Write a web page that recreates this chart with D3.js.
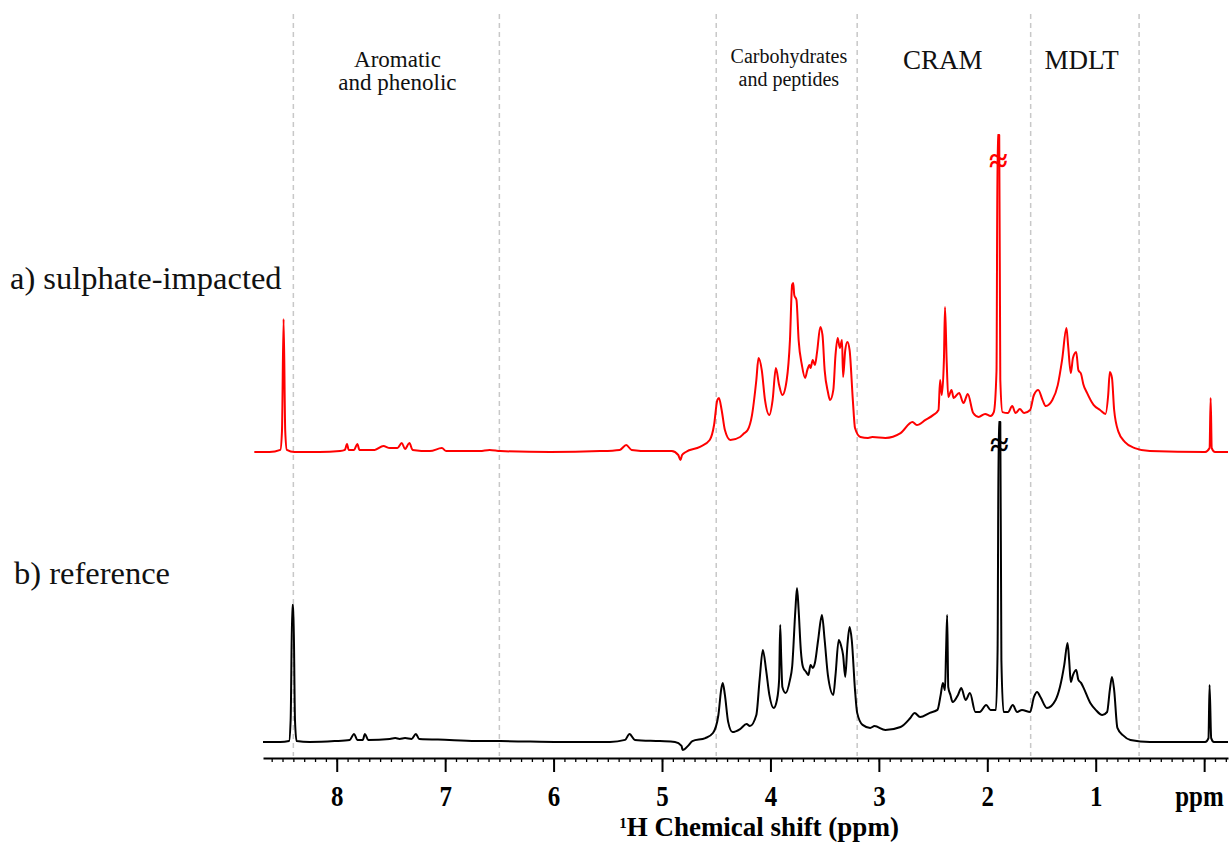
<!DOCTYPE html>
<html>
<head>
<meta charset="utf-8">
<script src="https://cdn.jsdelivr.net/npm/d3@7"></script>
<style>
  body { margin: 0; background: #fff; }
  text { font-family: 'Liberation Serif', 'Times New Roman', serif; }
</style>
</head>
<body>
<div id="chart"></div>
<script>
// ── Data (ppm, intensity in a.u.) ──
const sulphate = [
  [8.76, 0], [8.62, 0], [8.52, 0.7], [8.505, 7], [8.49, 44.3], [8.475, 7], [8.46, 0.7], [8.39, 0],
  [8.16, 0], [7.97, 0.3], [7.925, 0.7], [7.905, 2.7], [7.89, 0.7], [7.84, 0.7], [7.81, 2.7], [7.79, 0.7],
  [7.65, 0.7], [7.57, 2], [7.51, 1.3], [7.44, 1.3], [7.40, 3], [7.37, 1], [7.33, 3], [7.30, 0.7],
  [7.14, 0.3], [7.03, 1.3], [6.99, 0.3], [6.68, 0.3], [6.59, 0.7], [6.49, 0.3], [6.03, 0], [5.57, 0.3],
  [5.39, 0.7], [5.33, 2.3], [5.28, 0.7], [5.11, 0.3], [4.91, 0.3], [4.85, -1], [4.83, -2.7], [4.815, -1],
  [4.78, 0], [4.65, 1.7], [4.56, 4], [4.52, 9], [4.49, 17.3], [4.475, 18], [4.45, 14], [4.42, 7.3],
  [4.37, 4], [4.28, 5], [4.25, 6], [4.21, 7.3], [4.17, 12.3], [4.13, 24], [4.11, 31.3], [4.08, 27.3],
  [4.05, 17.3], [4.01, 12.3], [3.98, 17.3], [3.95, 28], [3.92, 22.3], [3.89, 19], [3.85, 24], [3.82, 37.3],
  [3.80, 55.7], [3.79, 56.3], [3.78, 52.3], [3.76, 50.7], [3.74, 37.3], [3.71, 29], [3.68, 24.7], [3.66, 27.3],
  [3.64, 29], [3.63, 28], [3.61, 30.7], [3.59, 29], [3.57, 33.3], [3.54, 41.7], [3.52, 39], [3.50, 27.3],
  [3.47, 20], [3.45, 17.3], [3.42, 20.7], [3.40, 32.3], [3.38, 38], [3.36, 34.7], [3.34, 37.3], [3.33, 25],
  [3.31, 34], [3.29, 36.7], [3.27, 34], [3.24, 17.3], [3.22, 8], [3.17, 5], [3.10, 4.7], [3.06, 5],
  [2.94, 4.7], [2.80, 6.3], [2.69, 10], [2.65, 9], [2.57, 10.7], [2.50, 12.3], [2.45, 14], [2.435, 24],
  [2.42, 19], [2.40, 30.7], [2.39, 48.3], [2.375, 30.7], [2.36, 18.3], [2.33, 20.7], [2.31, 18], [2.26, 19.7],
  [2.22, 16.3], [2.18, 19.3], [2.13, 13], [2.08, 11.7], [2.02, 12.7], [1.97, 12], [1.94, 13.3], [1.915, 27],
  [1.905, 105.7], [1.89, 105.7], [1.88, 24], [1.86, 13.3], [1.81, 13], [1.77, 15.3], [1.74, 13], [1.70, 14.3],
  [1.66, 13], [1.605, 14], [1.57, 19], [1.53, 20.7], [1.49, 17.3], [1.46, 15.3], [1.40, 17.3], [1.35, 22.3],
  [1.31, 30.7], [1.27, 41.3], [1.255, 35.7], [1.23, 26.3], [1.21, 31.3], [1.18, 33.3], [1.16, 27.3], [1.135, 26],
  [1.115, 22.7], [1.08, 19.7], [1.02, 15.7], [0.96, 14], [0.91, 12.7], [0.885, 19], [0.87, 26.7], [0.85, 24.7],
  [0.83, 14], [0.79, 6.7], [0.73, 3.3], [0.64, 1.3], [0.50, 0.3], [-0.01, 0], [-0.05, 1.3], [-0.06, 18],
  [-0.07, 1.3], [-0.10, 0], [-0.22, 0]
];

const reference = [
  [8.68, 0], [8.52, 0], [8.44, 0.3], [8.425, 7.3], [8.41, 45.7], [8.40, 45.7], [8.385, 7.3], [8.37, 0.3],
  [8.25, 0], [8.02, 0.3], [7.88, 0.7], [7.84, 2.7], [7.81, 0.7], [7.76, 0.7], [7.74, 2.7], [7.71, 0.7],
  [7.51, 1], [7.46, 1.3], [7.42, 1], [7.37, 1.3], [7.31, 1], [7.27, 2.7], [7.24, 1], [6.96, 0.7],
  [6.68, 0.3], [6.49, 0.3], [5.94, 0], [5.48, 0], [5.34, 0.7], [5.30, 2.7], [5.25, 0.7], [5.02, 0.3],
  [4.88, 0], [4.82, -1.3], [4.81, -2.7], [4.76, -1.3], [4.72, 0.3], [4.60, 1.3], [4.53, 3], [4.48, 9],
  [4.455, 17.3], [4.44, 19.7], [4.42, 15.7], [4.39, 6.7], [4.35, 3.3], [4.28, 4.3], [4.22, 6], [4.19, 5.3],
  [4.13, 9], [4.10, 20.7], [4.07, 30.7], [4.04, 24], [4.01, 15.7], [3.97, 11.3], [3.94, 14], [3.92, 20.7],
  [3.91, 39], [3.90, 27.3], [3.89, 18.3], [3.86, 16.3], [3.82, 20.7], [3.80, 25], [3.77, 44], [3.755, 51.3],
  [3.74, 44], [3.72, 30.7], [3.70, 25], [3.67, 23.3], [3.65, 22.3], [3.63, 25.7], [3.61, 24.7], [3.59, 26.3],
  [3.56, 34], [3.525, 42.3], [3.50, 34], [3.47, 22.3], [3.42, 15.7], [3.40, 22.3], [3.37, 34], [3.35, 32.3],
  [3.33, 29], [3.31, 21.7], [3.29, 32.3], [3.27, 38.3], [3.25, 34], [3.22, 17.3], [3.20, 9.7], [3.15, 5.7],
  [3.08, 4.7], [3.04, 5.3], [2.94, 4], [2.80, 5], [2.71, 8], [2.67, 9.7], [2.62, 8.3], [2.53, 9.7],
  [2.46, 10.7], [2.43, 15.7], [2.41, 19.7], [2.39, 17.3], [2.38, 30.7], [2.37, 42.3], [2.36, 18.3], [2.34, 15.7],
  [2.32, 13.3], [2.27, 15.7], [2.24, 18], [2.20, 14], [2.16, 16.3], [2.11, 10], [2.07, 10], [2.01, 12.3],
  [1.97, 10.7], [1.92, 10.7], [1.905, 30.7], [1.895, 106.7], [1.88, 106.7], [1.87, 27.3], [1.85, 10], [1.81, 10],
  [1.765, 12.3], [1.725, 10], [1.68, 10.7], [1.605, 10], [1.57, 15], [1.54, 16.7], [1.51, 15], [1.45, 11.3],
  [1.37, 14], [1.33, 18.3], [1.29, 25.7], [1.26, 33], [1.245, 27.3], [1.23, 20], [1.21, 22.3], [1.18, 24],
  [1.16, 20.7], [1.135, 19.7], [1.115, 18.3], [1.05, 13], [1.00, 10.7], [0.94, 9], [0.895, 10], [0.87, 17.3],
  [0.85, 21.7], [0.83, 17.3], [0.80, 4.7], [0.75, 2.3], [0.68, 0.7], [0.50, 0], [-0.01, 0], [-0.04, 1.3],
  [-0.05, 19], [-0.065, 1.3], [-0.09, 0], [-0.22, 0]
];

const regionBounds = [8.4, 6.5, 4.5, 3.2, 1.6, 0.6];
const regionLabels = [
  { ppm: 7.44, lines: ['Aromatic', 'and phenolic'] },
  { ppm: 3.83, lines: ['Carbohydrates', 'and peptides'] },
  { ppm: 2.41, lines: ['CRAM'] },
  { ppm: 1.13, lines: ['MDLT'] }
];
const majorTicks = [8, 7, 6, 5, 4, 3, 2, 1, 0];
const breakPeaks = [1.897, 1.89]; // truncated peak, sulphate / reference

const width = 1230, height = 845;

const svg = d3.select('#chart')
  .append('svg')
  .attr('width', width)
  .attr('height', height);

const x = d3.scaleLinear().domain([8.68, -0.22]).range([263, 1228]);
const yA = d3.scaleLinear().domain([0, 100]).range([452, 152]);
const yB = d3.scaleLinear().domain([0, 100]).range([742, 442]);

// Region dividers
svg.append('g').selectAll('line')
  .data(regionBounds).enter()
  .append('line')
  .attr('x1', d => x(d)).attr('x2', d => x(d))
  .attr('y1', 14).attr('y2', 756)
  .attr('stroke', '#c8c8c8')
  .attr('stroke-width', 1.5)
  .attr('stroke-dasharray', '5,4');

// Region labels
const labelSizes = [23, 20, 27, 27];
const labelBase = [67, 63, 69, 69];
const labelGap = [23, 23, 0, 0];
regionLabels.forEach((r, i) => {
  r.lines.forEach((t, j) => {
    svg.append('text')
      .attr('x', x(r.ppm))
      .attr('y', labelBase[i] + j * labelGap[i])
      .attr('text-anchor', 'middle')
      .style('font-size', labelSizes[i] + 'px')
      .attr('fill', '#111')
      .text(t);
  });
});

// Sample labels
svg.append('text').attr('x', 10).attr('y', 289)
  .style('font-size', '32.5px').attr('fill', '#111').text('a) sulphate-impacted');
svg.append('text').attr('x', 14).attr('y', 584)
  .style('font-size', '32.5px').attr('fill', '#111').text('b) reference');

// Spectra
const lineA = d3.line().x(d => x(d[0])).y(d => yA(d[1])).curve(d3.curveMonotoneX);
const lineB = d3.line().x(d => x(d[0])).y(d => yB(d[1])).curve(d3.curveMonotoneX);

svg.append('path').datum(sulphate)
  .attr('fill', 'none').attr('stroke', '#ff0000')
  .attr('stroke-width', 2).attr('stroke-linejoin', 'round')
  .attr('d', lineA);

svg.append('path').datum(reference)
  .attr('fill', 'none').attr('stroke', '#000')
  .attr('stroke-width', 2).attr('stroke-linejoin', 'round')
  .attr('d', lineB);

// Break marks on the truncated peak
svg.append('text')
  .attr('x', x(breakPeaks[0])).attr('y', yA(97) + 11)
  .attr('text-anchor', 'middle')
  .style('font-size', '34px').style('font-weight', 'bold')
  .attr('fill', '#ff0000').text('≈');
svg.append('text')
  .attr('x', x(breakPeaks[1])).attr('y', yB(99) + 11)
  .attr('text-anchor', 'middle')
  .style('font-size', '34px').style('font-weight', 'bold')
  .attr('fill', '#000').text('≈');

// Axis
const axisY = 758;
const minor = d3.range(-2, 87).map(d => d / 10);

svg.append('g')
  .attr('transform', `translate(0,${axisY})`)
  .call(d3.axisBottom(x).tickValues(minor).tickSize(4).tickSizeOuter(0).tickFormat(''))
  .call(g => g.select('.domain').attr('stroke-width', 2))
  .call(g => g.selectAll('.tick line').attr('stroke-width', 1.3));

svg.append('g')
  .attr('transform', `translate(0,${axisY})`)
  .call(d3.axisBottom(x).tickValues(majorTicks).tickSize(14).tickSizeOuter(0).tickPadding(13)
    .tickFormat(d => d === 0 ? 'ppm' : d3.format('d')(d)))
  .call(g => g.select('.domain').remove())
  .call(g => g.selectAll('.tick line').attr('stroke-width', 2))
  .call(g => g.selectAll('text')
    .attr('fill', '#000')
    .attr('transform', 'scale(0.86,1)')
    .attr('dx', d => d === 0 ? -6 : 0)
    .style('font-family', "'Liberation Serif', serif")
    .style('font-size', '29px')
    .style('font-weight', 'bold'));

// Axis title
const title = svg.append('text')
  .attr('x', 759).attr('y', 836)
  .attr('text-anchor', 'middle')
  .style('font-size', '27px').style('font-weight', 'bold');
title.append('tspan').attr('baseline-shift', 'super').style('font-size', '15px').text('1');
title.append('tspan').text('H Chemical shift (ppm)');
</script>
</body>
</html>
